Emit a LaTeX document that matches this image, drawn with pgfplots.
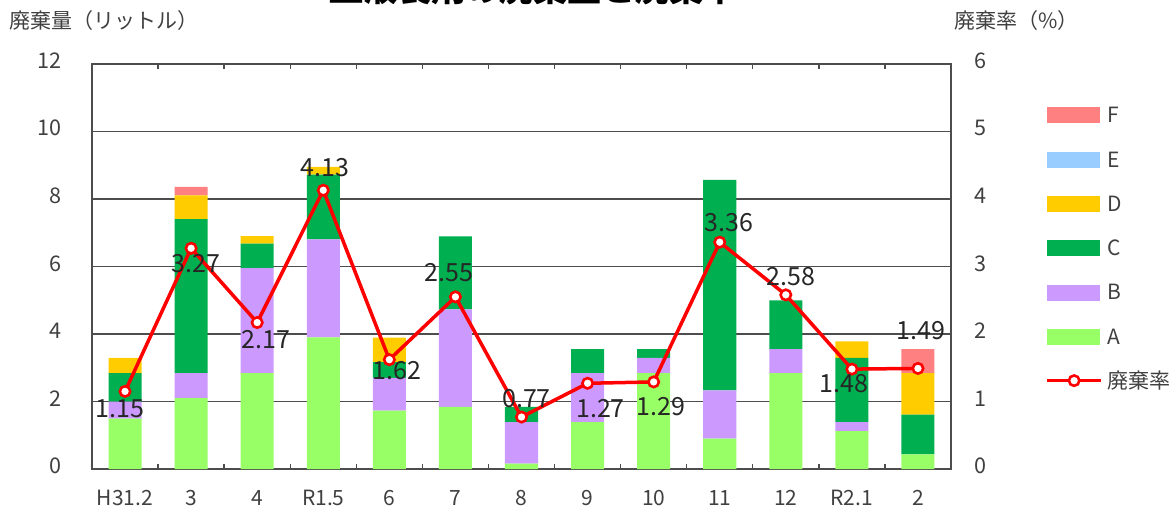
\documentclass[border=0pt]{standalone}
\usepackage{pgfplots}
\pgfplotsset{compat=1.18}
\usepackage{pgfplotstable}
\usepackage{fontspec}
\setmainfont{Noto Sans CJK JP}

\definecolor{cA}{HTML}{99FF66}
\definecolor{cB}{HTML}{CC99FF}
\definecolor{cC}{HTML}{00B050}
\definecolor{cD}{HTML}{FFCC00}
\definecolor{cE}{HTML}{99CCFF}
\definecolor{cF}{HTML}{FF8080}
\definecolor{gridc}{HTML}{4D4D4D}
\definecolor{txt}{HTML}{262626}
\definecolor{ticktxt}{HTML}{404040}

\pgfplotsset{
  longline/.style={legend image code/.code={\draw[mark repeat=2,mark phase=2,##1] plot coordinates {(0pt,0pt) (13.5pt,0pt) (27pt,0pt)};}},
  barleg/.style={legend image code/.code={\fill[#1] (0pt,-3.75pt) rectangle (26pt,3.75pt);}},
}

\pgfplotstableread{
x A B C D E F
0 1.49 0.51 0.84 0.45 0 0
1 2.10 0.74 4.56 0.71 0 0.25
2 2.84 3.11 0.73 0.22 0 0
3 3.90 2.90 1.92 0.23 0 0
4 1.73 0.97 0.47 0.72 0 0
5 1.84 2.89 2.16 0 0 0
6 0.16 1.23 0.45 0 0 0
7 1.39 1.45 0.71 0 0 0
8 2.84 0.45 0.26 0 0 0
9 0.90 1.43 6.24 0 0 0
10 2.84 0.71 1.45 0 0 0
11 1.12 0.27 1.90 0.49 0 0
12 0.43 0 1.18 1.23 0 0.71
}\bars

\pgfplotstableread{
x r dx dy
0 1.15 -2.5 -8.5
1 3.27 2.5 -7.5
2 2.17 4.5 -8.3
3 4.13 1 11.3
4 1.62 3.8 -5.5
5 2.55 -3.2 12
6 0.77 2.5 9.2
7 1.27 6.5 -12.5
8 1.29 3.5 -12.5
9 3.36 4.7 10
10 2.58 2.5 9.2
11 1.48 -4 -7.2
12 1.49 1.5 18.8
}\rate

\begin{document}
\begin{tikzpicture}
\useasboundingbox (0,0) rectangle (586pt,-256.5pt);

\node[anchor=base, inner sep=0pt, font=\fontsize{17}{20}\selectfont\bfseries, text=black] at (266.5pt,-1pt) {血液製剤の廃棄量と廃棄率};
\node[anchor=west, inner sep=0pt, font=\fontsize{10.5}{12}\selectfont, text=ticktxt] at (4.5pt,-10.5pt) {廃棄量（リットル）};
\node[anchor=west, inner sep=0pt, font=\fontsize{10.5}{12}\selectfont, text=ticktxt] at (477pt,-10.5pt) {廃棄率（\%）};

\begin{axis}[
  scale only axis, width=429.5pt, height=202.5pt,
  at={(46pt,-234.5pt)}, anchor=south west,
  xmin=-0.5, xmax=12.5, ymin=0, ymax=12,
  ytick={0,2,...,12},
  xtick={0,...,12},
  xticklabels={H31.2,3,4,R1.5,6,7,8,9,10,11,12,R2.1,2},
  minor xtick={0.5,1.5,...,11.5},
  major tick length=0pt, minor tick length=2.5pt, tick align=inside,
  tick style={gridc, line width=0.7pt},
  ymajorgrids, grid style={gridc, line width=0.75pt},
  axis line style={gridc, line width=0.85pt},
  /pgf/number format/assume math mode=true,
  xticklabel style={anchor=center, inner sep=0pt, text height=7.5pt, text depth=0pt, yshift=-14.5pt, font=\fontsize{10.5}{12}\selectfont, text=ticktxt},
  yticklabel style={anchor=east, inner sep=0pt, xshift=-15pt, yshift=1.6pt, font=\fontsize{10.8}{12}\selectfont, text=ticktxt},
  ybar stacked, bar width=0.5,
]
\addplot[fill=cA, draw=none] table[x=x,y=A] {\bars};
\addplot[fill=cB, draw=none] table[x=x,y=B] {\bars};
\addplot[fill=cC, draw=none] table[x=x,y=C] {\bars};
\addplot[fill=cD, draw=none] table[x=x,y=D] {\bars};
\addplot[fill=cE, draw=none] table[x=x,y=E] {\bars};
\addplot[fill=cF, draw=none] table[x=x,y=F] {\bars};
\end{axis}

\begin{axis}[
  scale only axis, width=429.5pt, height=202.5pt,
  at={(46pt,-234.5pt)}, anchor=south west,
  xmin=-0.5, xmax=12.5, ymin=0, ymax=6,
  axis x line=none, axis y line*=right,
  xtick=\empty, ytick={0,...,6},
  major tick length=0pt,
  axis line style={gridc, line width=0.85pt},
  /pgf/number format/assume math mode=true,
  yticklabel style={anchor=west, inner sep=0pt, xshift=11.6pt, yshift=1.6pt, font=\fontsize{10.8}{12}\selectfont, text=ticktxt},
  legend style={at={(1.1094,0.894)}, anchor=north west, draw=none, fill=none, inner sep=0pt,
    font=\fontsize{10.5}{12}\selectfont, text=ticktxt, row sep=14.25pt,
    nodes={inner sep=0pt, text height=7.5pt, text depth=0pt},
    /tikz/every odd column/.append style={column sep=2.5pt}},
  legend cell align=left,
  visualization depends on={\thisrow{dx} \as \lblx},
  visualization depends on={\thisrow{dy} \as \lbly},
]
\addlegendimage{barleg=cF}
\addlegendentry{F}
\addlegendimage{barleg=cE}
\addlegendentry{E}
\addlegendimage{barleg=cD}
\addlegendentry{D}
\addlegendimage{barleg=cC}
\addlegendentry{C}
\addlegendimage{barleg=cB}
\addlegendentry{B}
\addlegendimage{barleg=cA}
\addlegendentry{A}
\addplot[red, line width=1.75pt, mark=*, mark size=2.6pt,
  mark options={fill=white, draw=red, line width=1.3pt},
  longline,
  nodes near coords={\pgfmathprintnumber[fixed,precision=2,fixed zerofill]{\pgfplotspointmeta}},
  nodes near coords style={anchor=center, inner sep=0pt, xshift=\lblx pt, yshift=\lbly pt, font=\fontsize{12.5}{14}\selectfont, text=txt},
  point meta=explicit,
] table[x=x, y=r, meta=r] {\rate};
\addlegendentry{廃棄率}
\end{axis}
\end{tikzpicture}
\end{document}
